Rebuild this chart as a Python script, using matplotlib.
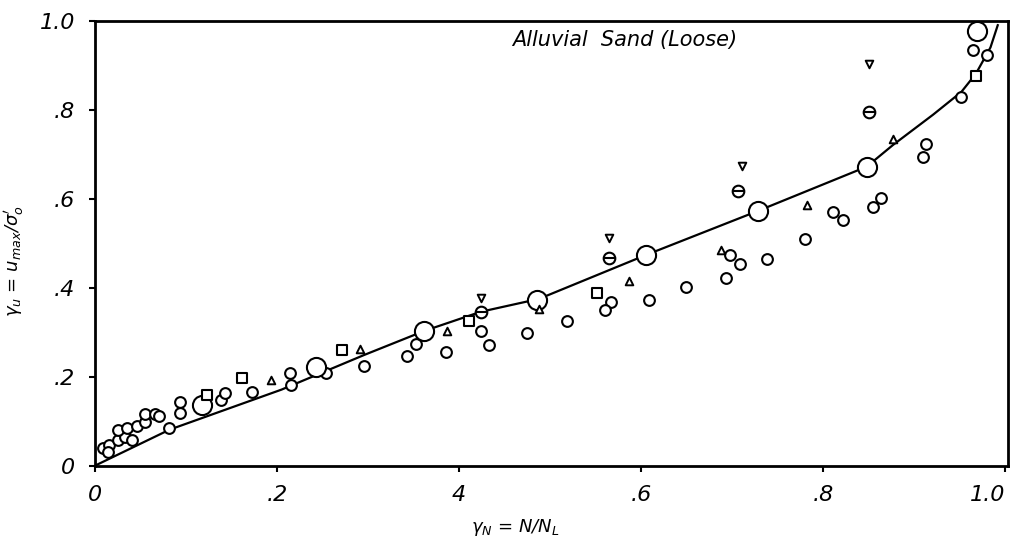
import numpy as np
import matplotlib
matplotlib.use('Agg')
import matplotlib.pyplot as plt

# 曲线 (hand fitted trend)
curve_x = [0.0, 0.082, 0.205, 0.296, 0.362, 0.424, 0.488, 0.606, 0.729,
           0.848, 0.877, 0.921, 0.952, 0.968, 0.984, 0.992]
curve_y = [0.0, 0.081, 0.171, 0.249, 0.303, 0.346, 0.375, 0.474, 0.573,
           0.672, 0.721, 0.789, 0.840, 0.881, 0.940, 0.990]

# small open circles
small_x = [0.082, 0.093, 0.093, 0.139, 0.143, 0.173, 0.216, 0.214, 0.254,
           0.296, 0.343, 0.353, 0.386, 0.424, 0.433, 0.475, 0.519, 0.567,
           0.561, 0.609, 0.650, 0.693, 0.698, 0.709, 0.738, 0.780, 0.811,
           0.822, 0.864, 0.855, 0.913, 0.910, 0.952, 0.965, 0.980,
           0.009, 0.016, 0.025, 0.033, 0.041, 0.025, 0.035, 0.046, 0.055,
           0.055, 0.066, 0.071, 0.014]
small_y = [0.085, 0.144, 0.119, 0.148, 0.164, 0.166, 0.182, 0.209, 0.209,
           0.225, 0.247, 0.274, 0.256, 0.303, 0.272, 0.299, 0.326, 0.369,
           0.351, 0.373, 0.402, 0.422, 0.474, 0.454, 0.465, 0.510, 0.571,
           0.553, 0.602, 0.582, 0.724, 0.694, 0.829, 0.935, 0.924,
           0.040, 0.047, 0.058, 0.065, 0.058, 0.081, 0.085, 0.090, 0.099,
           0.117, 0.117, 0.112, 0.031]

# large open circles
big_x = [0.118, 0.243, 0.362, 0.486, 0.606, 0.729, 0.848, 0.969]
big_y = [0.137, 0.222, 0.303, 0.373, 0.474, 0.573, 0.672, 0.978]

# squares
sq_x = [0.123, 0.162, 0.272, 0.411, 0.552, 0.968]
sq_y = [0.160, 0.198, 0.261, 0.326, 0.389, 0.876]

# triangles (up)
tri_x = [0.194, 0.291, 0.387, 0.488, 0.587, 0.688, 0.782, 0.877]
tri_y = [0.193, 0.263, 0.303, 0.353, 0.416, 0.485, 0.587, 0.735]

# triangles (down)
tdn_x = [0.424, 0.565, 0.711, 0.850]
tdn_y = [0.378, 0.512, 0.674, 0.903]

# circles with a bar
bar_x = [0.424, 0.565, 0.707, 0.850]
bar_y = [0.346, 0.467, 0.618, 0.796]

x_ticks = [0, 0.2, 0.4, 0.6, 0.8, 1.0]
x_labels = ['0', '.2', '4', '.6', '.8', '1.0']
y_ticks = [0, 0.2, 0.4, 0.6, 0.8, 1.0]
y_labels = ['0', '.2', '.4', '.6', '.8', '1.0']

fig = plt.figure(figsize=(10.2, 5.46), dpi=100)
ax = fig.add_axes([0.093, 0.147, 0.895, 0.815])

ax.plot(curve_x, curve_y, color='black', linewidth=1.6, zorder=1)

ax.scatter(small_x, small_y, s=60, marker='o', facecolors='white',
           edgecolors='black', linewidths=1.5, zorder=3)
ax.scatter(big_x, big_y, s=190, marker='o', facecolors='white',
           edgecolors='black', linewidths=1.5, zorder=3)
ax.scatter(sq_x, sq_y, s=55, marker='s', facecolors='white',
           edgecolors='black', linewidths=1.5, zorder=3)
ax.scatter(tri_x, tri_y, s=30, marker='^', facecolors='white',
           edgecolors='black', linewidths=1.4, zorder=3)
ax.scatter(tdn_x, tdn_y, s=30, marker='v', facecolors='white',
           edgecolors='black', linewidths=1.4, zorder=3)
ax.scatter(bar_x, bar_y, s=70, marker='o', facecolors='white',
           edgecolors='black', linewidths=1.5, zorder=3)
ax.scatter(bar_x, bar_y, s=70, marker='_', color='black',
           linewidths=1.5, zorder=4)

ax.set_xlim(0, 1.003)
ax.set_ylim(0, 1.0)
ax.set_xticks(x_ticks)
ax.set_xticklabels(x_labels, fontsize=16, style='italic')
ax.set_yticks(y_ticks)
ax.set_yticklabels(y_labels, fontsize=16, style='italic')
ax.tick_params(direction='out', length=4, width=1.5, pad=10)
# last x label sits inside the right edge, like the original
ax.get_xticklabels()[-1].set_horizontalalignment('right')

for sp in ax.spines.values():
    sp.set_linewidth(2)

ax.text(0.458, 0.957, 'Alluvial  Sand (Loose)', fontsize=15,
        style='italic', ha='left', va='center')

ax.set_xlabel(r'$\gamma_N$ = N/N$_L$', fontsize=13, style='italic')
ax.xaxis.set_label_coords(0.461, -0.115)
ax.set_ylabel(r"$\gamma_u$ = u$_{max}$/$\sigma_o'$", fontsize=13,
              style='italic')
ax.yaxis.set_label_coords(-0.075, 0.46)

plt.savefig('out.png', dpi=100)
plt.close()
